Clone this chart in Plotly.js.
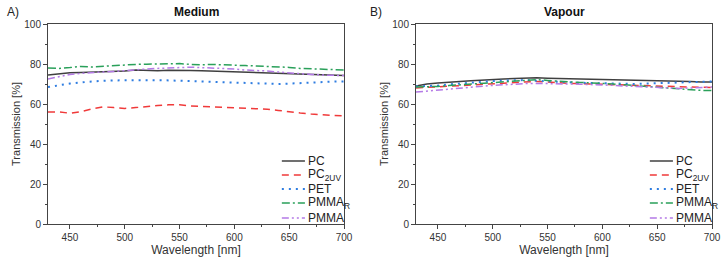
<!DOCTYPE html>
<html><head><meta charset="utf-8">
<script src="https://cdn.plot.ly/plotly-3.0.1.min.js"></script>
<style>html,body{margin:0;padding:0;background:#fff}#chart{width:726px;height:264px}</style>
</head><body><div id="chart"></div>
<script>
const wavelength = [430,440,450,460,470,480,490,500,510,520,530,540,550,560,570,580,590,600,610,620,630,640,650,660,670,680,690,700];
const seriesNames = ["PC","PC<sub>2UV</sub>","PET","PMMA<sub>R</sub>","PMMA"];
// Medium panel
const medPC    = [74.5,75.2,75.6,75.8,76.0,75.9,76.3,76.5,77.0,76.8,76.6,76.9,77.0,76.8,76.6,76.4,76.2,76.3,76.0,75.8,75.5,75.3,75.0,75.1,74.8,74.5,74.2,74.3];
const medPC2UV = [56.0,56.0,55.4,56.2,57.5,58.6,58.2,57.8,58.2,58.8,59.2,59.6,59.6,59.0,58.8,58.7,58.5,58.3,58.0,57.8,57.4,56.8,56.0,55.5,55.0,54.6,54.3,54.0];
const medPET   = [68.5,69.5,70.2,70.8,71.3,71.6,71.8,71.9,72.0,72.0,71.9,71.8,71.6,71.5,71.3,71.2,71.0,70.8,70.6,70.3,70.1,70.0,70.2,70.5,70.8,71.0,71.2,71.3];
const medPMMAR = [78.0,77.8,78.2,78.8,78.5,78.9,79.2,79.6,79.8,79.9,80.0,80.1,80.2,79.8,79.6,79.8,79.7,79.4,79.2,79.0,78.8,78.6,78.3,77.8,77.5,77.3,77.2,77.0];
const medPMMA  = [72.5,73.8,74.8,75.3,75.8,76.0,76.3,76.8,77.3,77.5,77.8,78.0,78.3,78.4,78.2,78.0,77.8,77.5,77.0,76.8,76.5,76.0,75.5,75.2,74.8,74.5,74.3,74.2];
// Vapour panel
const vapPC    = [69.0,70.0,70.5,71.0,71.3,71.6,71.8,72.0,72.5,72.8,73.0,73.1,72.9,72.8,72.6,72.5,72.4,72.3,72.2,72.0,72.0,71.8,71.7,71.6,71.5,71.3,71.0,71.0];
const vapPC2UV = [68.0,68.3,68.5,69.0,69.3,69.5,70.0,70.3,70.5,70.8,71.0,71.3,71.0,70.6,70.3,70.2,70.0,70.0,69.8,69.6,69.4,69.2,69.0,68.8,68.6,68.5,68.4,68.2];
const vapPET   = [68.8,69.0,69.2,69.8,70.3,70.8,71.2,71.5,71.7,71.8,72.0,71.6,71.3,71.0,70.8,70.6,70.5,70.3,70.2,70.0,70.0,70.2,70.4,70.6,70.8,71.0,71.2,71.3];
const vapPMMAR = [68.5,68.5,68.8,69.2,69.6,69.8,70.3,70.8,71.2,71.6,72.0,72.2,71.8,71.3,71.0,70.8,70.6,70.3,70.0,69.6,69.2,68.8,68.3,67.8,67.3,67.0,66.8,66.7];
const vapPMMA  = [66.0,66.5,67.0,67.5,67.8,68.3,68.8,69.3,69.6,70.0,70.2,70.3,70.3,70.2,70.0,69.9,69.8,69.6,69.3,69.0,68.8,68.6,68.3,68.0,67.8,68.0,68.3,68.5];
const yTicks = [0,20,40,60,80,100];
const xTicks = [450,500,550,600,650,700];

const styles = [
  {color:"#404040", dash:"solid", width:1.5},
  {color:"#f03a3a", dash:"7px,5px", width:1.5},
  {color:"#2f7de1", dash:"2px,5px", width:2},
  {color:"#2aa05a", dash:"8px,3px,2px,3px", width:1.5},
  {color:"#b47ae6", dash:"7px,3px,2px,3px,2px,3px", width:1.5}
];
const medium = [medPC, medPC2UV, medPET, medPMMAR, medPMMA];
const vapour = [vapPC, vapPC2UV, vapPET, vapPMMAR, vapPMMA];
const traces = [];
medium.forEach((y,i)=>traces.push({x:wavelength,y:y,xaxis:"x",yaxis:"y",mode:"lines",name:seriesNames[i],line:styles[i],showlegend:false}));
vapour.forEach((y,i)=>traces.push({x:wavelength,y:y,xaxis:"x2",yaxis:"y2",mode:"lines",name:seriesNames[i],line:styles[i],showlegend:false}));

const W=726;
const F="Liberation Sans, Arial";
const axX = (dom, anchor)=>({domain:dom, anchor:anchor, range:[430,700], tickvals:xTicks, ticks:"outside", ticklen:4, tickcolor:"#444",
  minor:{dtick:25, tick0:425, ticks:"outside", ticklen:2, tickcolor:"#444"},
  showline:true, linecolor:"#444", linewidth:1, mirror:true, showgrid:false, zeroline:false,
  tickfont:{family:F, size:10, color:"#333"},
  title:{text:"Wavelength [nm]", font:{family:F, size:12, color:"#333"}, standoff:3}});
const axY = (anchor)=>({domain:[0,1], anchor:anchor, range:[0,100], tickvals:yTicks, ticks:"outside", ticklen:4, tickcolor:"#444",
  minor:{dtick:10, ticks:"outside", ticklen:2, tickcolor:"#444"},
  showline:true, linecolor:"#444", linewidth:1, mirror:true, showgrid:false, zeroline:false,
  tickfont:{family:F, size:10, color:"#333"},
  title:{text:"Transmission [%]", font:{family:F, size:11, color:"#333"}, standoff:1}});

const shapes=[], annotations=[];
const legY=[0.315,0.245,0.175,0.105,0.03];
[["x","y"],["x2","y2"]].forEach(([xa,ya])=>{
  seriesNames.forEach((n,i)=>{
    shapes.push({type:"line", xref:xa+" domain", yref:ya+" domain", x0:0.79, x1:0.868, y0:legY[i], y1:legY[i], line:styles[i]});
    annotations.push({xref:xa+" domain", yref:ya+" domain", x:0.872, y:legY[i], xanchor:"left", yanchor:"middle", text:n, showarrow:false,
      font:{family:F, size:12, color:"#222"}});
  });
});
const topY = (224-12)/200;
annotations.push({xref:"x domain", yref:"paper", x:0.5, y:topY, yanchor:"middle", xanchor:"center", text:"<b>Medium</b>", showarrow:false, font:{family:F, size:12, color:"#111"}});
annotations.push({xref:"x2 domain", yref:"paper", x:0.5, y:topY, yanchor:"middle", xanchor:"center", text:"<b>Vapour</b>", showarrow:false, font:{family:F, size:12, color:"#111"}});
annotations.push({xref:"paper", yref:"paper", x:5/W, y:topY, xanchor:"left", yanchor:"middle", text:"A)", showarrow:false, font:{family:F, size:12, color:"#222"}});
annotations.push({xref:"paper", yref:"paper", x:368/W, y:topY, xanchor:"left", yanchor:"middle", text:"B)", showarrow:false, font:{family:F, size:12, color:"#222"}});

const layout = {
  width:726, height:264, margin:{l:0,r:0,t:24,b:40}, paper_bgcolor:"#fff", plot_bgcolor:"#fff",
  xaxis: axX([48/W, 344/W], "y"), yaxis: axY("x"),
  xaxis2: axX([416/W, 712/W], "y2"), yaxis2: axY("x2"),
  shapes:shapes, annotations:annotations, showlegend:false
};
Plotly.newPlot("chart", traces, layout, {staticPlot:true, displayModeBar:false});
</script></body></html>
